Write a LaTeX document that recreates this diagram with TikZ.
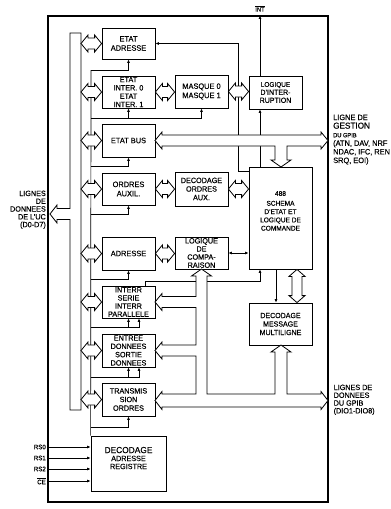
\documentclass[tikz,border=0pt]{standalone}
\usepackage{fontspec}
\setmainfont{Liberation Sans}[FakeStretch=0.95,FakeBold=0.3]
\usetikzlibrary{arrows.meta,calc}
\tikzset{
 box/.style={draw, line width=0.8pt, inner sep=0pt, align=center, font=\fontsize{7.8}{9.2}\selectfont},
 ln/.style={line width=0.7pt},
 arr/.style={line width=0.7pt, -{Latex[length=3.5pt,width=3pt]}},
 dblarr/.style={line width=0.7pt, {Latex[length=3.5pt,width=3pt]}-{Latex[length=3.5pt,width=3pt]}},
 hollow/.style={draw, fill=white, line width=0.8pt, line join=miter},
 lbl/.style={inner sep=0pt, align=left, anchor=north west},
 rs/.style={inner sep=0.5pt, anchor=east, font=\fontsize{6.5}{7}\selectfont},
}
\newcommand\hdbl[2]{%
 \path[hollow] let \p1=(#1), \p2=(#2) in
  (\x1,\y1) -- (\x1+7pt,\y1+8.5pt) -- (\x1+7pt,\y1+5.5pt) -- (\x2-7pt,\y1+5.5pt)
  -- (\x2-7pt,\y1+8.5pt) -- (\x2,\y1) -- (\x2-7pt,\y1-8.5pt) -- (\x2-7pt,\y1-5.5pt)
  -- (\x1+7pt,\y1-5.5pt) -- (\x1+7pt,\y1-8.5pt) -- cycle;}
\newcommand\vdbl[2]{%
 \path[hollow] let \p1=(#1), \p2=(#2) in
  (\x1,\y1) -- (\x1+8pt,\y1-7pt) -- (\x1+5pt,\y1-7pt) -- (\x1+5pt,\y2+7pt)
  -- (\x1+8pt,\y2+7pt) -- (\x1,\y2) -- (\x1-8pt,\y2+7pt) -- (\x1-5pt,\y2+7pt)
  -- (\x1-5pt,\y1-7pt) -- (\x1-8pt,\y1-7pt) -- cycle;}
\begin{document}
\begin{tikzpicture}[x=1pt,y=-1pt]
\useasboundingbox (0,0) rectangle (391,509);
% chip outline
\node[draw, line width=1.1pt, minimum width=280pt, minimum height=486pt, inner sep=0pt] (chip) at (188,259) {};
% left column
\node[box, minimum width=53pt, minimum height=31pt] (ea) at (128.5,43.5) {ETAT\\ADRESSE};
\node[box, minimum width=53pt, minimum height=32pt, font=\fontsize{7.6}{8.3}\selectfont] (ei) at (128.5,92) {ETAT\\INTER. 0\\ETAT\\INTER. 1};
\node[box, minimum width=53pt, minimum height=33pt] (eb) at (128.5,140.5) {ETAT BUS};
\node[box, minimum width=53pt, minimum height=32pt] (oa) at (128.5,189) {ORDRES\\AUXIL.};
\node[box, minimum width=53pt, minimum height=33pt] (ad) at (128.5,253.5) {ADRESSE};
\node[box, minimum width=53pt, minimum height=32pt, font=\fontsize{7.6}{8.1}\selectfont] (isp) at (128.5,302) {INTERR\\SERIE\\INTERR\\PARALLELE};
\node[box, minimum width=53pt, minimum height=33pt, font=\fontsize{7.6}{8.3}\selectfont] (edo) at (128.5,350.5) {ENTREE\\DONNEES\\SORTIE\\DONNEES};
\node[box, minimum width=53pt, minimum height=33pt, font=\fontsize{7.6}{8.6}\selectfont] (tro) at (128.5,399.5) {TRANSMIS\\SION\\ORDRES};
\node[box, minimum width=75pt, minimum height=55pt, font=\fontsize{7.6}{8}\selectfont] (dar) at (128.5,463.5) {{\fontsize{8.8}{8}\selectfont DECODAGE}\\ADRESSE\\REGISTRE\\[3pt]};
% middle column
\node[box, minimum width=53pt, minimum height=33pt] (mq) at (201.5,91.5) {MASQUE 0\\MASQUE 1};
\node[box, minimum width=53pt, minimum height=34pt, font=\fontsize{7.6}{8.6}\selectfont] (do) at (201.5,189) {DECODAGE\\ORDRES\\AUX.};
\node[box, minimum width=53pt, minimum height=32pt, font=\fontsize{7.6}{8.1}\selectfont] (lc) at (201.5,253) {LOGIQUE\\DE\\COMPA-\\RAISON};
% right column
\node[box, minimum width=53pt, minimum height=33pt, font=\fontsize{7.4}{8}\selectfont] (li) at (275.5,92.5) {{\fontsize{6.8}{8}\selectfont LOGIQUE}\\D'INTER-\\RUPTION};
\node[box, minimum width=63pt, minimum height=102pt, font=\fontsize{6.9}{8.3}\selectfont] (s) at (280.5,218) {488\\[1.5pt]SCHEMA\\D'ETAT ET\\LOGIQUE DE\\COMMANDE\\[6pt]};
\node[box, minimum width=63pt, minimum height=42pt, font=\fontsize{7.4}{8.5}\selectfont] (dmm) at (280.5,324) {DECODAGE\\MESSAGE\\MULTILIGNE};
% control lines from register decoder
\coordinate (cb) at (91,70);
\draw[ln] (dar.north west) -- (cb);
\draw[arr] (cb) -| (ea.south);
\draw[arr] (91,118) -| (mq.south);
\draw[arr] (ei.south |- 0,118) -- (ei.south);
\draw[arr] (91,166) -| (eb.south);
\draw[arr] (91,214) -| (oa.south);
\draw[arr] (91,279) -| (ad.south);
\draw[arr] (91,327) -| ([xshift=10.5pt]isp.south);
\draw[arr] (isp.south |- 0,327) -- (isp.south);
\draw[arr] (91,377) -| ([xshift=10.5pt]edo.south);
\draw[arr] (edo.south |- 0,377) -- (edo.south);
\draw[arr] (91,427) -| (tro.south);
% other thin connections
\draw[arr] ([yshift=-5pt]s.north west) -- ++(-10pt,0) |- (ea.east);
\draw[arr] ([xshift=-20.5pt]s.north) -- ([xshift=-20.5pt]s.north |- li.south);
\draw[arr] ([xshift=-15.5pt]li.north) -- ([xshift=-15.5pt]li.north |- chip.north);
\node[inner sep=0pt, font=\fontsize{6}{7}\selectfont] (int) at (260,8.5) {$\overline{\hbox{INT}}$};
\draw[arr] ([xshift=16.5pt]isp.north) |- (260,281) -- ([xshift=-20.5pt]s.south);
\draw[arr] ([xshift=-4.5pt]s.south) -- ([xshift=-4.5pt]dmm.north);
\draw[dblarr] (lc.east) -- (lc.east -| s.west);
% register select inputs
\node[rs] (rs0) at (46.5,447) {RS0};
\node[rs] (rs1) at (46.5,458) {RS1};
\node[rs] (rs2) at (46.5,469) {RS2};
\node[rs] (ce) at (46.5,481) {$\overline{\hbox{CE}}$};
\foreach \r in {rs0,rs1,rs2,ce} \draw[arr] (\r.east -| chip.west) -- (\r.east -| dar.west);
% CPU data bus
\draw[hollow] (70,33) -- (81,33) -- (81,410) -- (70,410) -- (70,219.5) -- (57,219.5) -- (57,223) -- (50,214) -- (57,205) -- (57,208.5) -- (70,208.5) -- cycle;
\coordinate (busR) at (81,0);
\foreach \bx in {ea,ei,eb,oa,ad,isp,edo,tro} {\hdbl{\bx.west -| busR}{\bx.west}}
% internal wide connections
\hdbl{ei.east}{mq.west}
\hdbl{mq.east}{li.west}
\hdbl{oa.east}{do.west}
\hdbl{do.east}{do.east -| s.west}
\hdbl{ad.east}{lc.west}
\vdbl{[xshift=16.5pt]s.south}{[xshift=16.5pt]dmm.north}
% GPIB management bus
\draw[hollow] (155,140.5) -- (162,132) -- (162,135) -- (321,135) -- (321,132) -- (328,140.5) -- (321,149) -- (321,146) -- (287,146) -- (287,160) -- (291,160) -- (281,167) -- (271,160) -- (275,160) -- (275,146) -- (162,146) -- (162,149) -- cycle;
% GPIB data bus
\draw[hollow] (201.5,269) -- (211.5,276) -- (207,276) -- (207,394) -- (275,394) -- (275,352) -- (271,352) -- (281,345) -- (291,352) -- (287,352) -- (287,394) -- (321,394) -- (321,391.5) -- (328,400.5) -- (321,409.5) -- (321,407) -- (162,407) -- (162,409.5) -- (155,400.5) -- (162,391.5) -- (162,394) -- (196,394) -- (196,356) -- (162,356) -- (162,359) -- (155,350.5) -- (162,342) -- (162,345) -- (196,345) -- (196,307.5) -- (162,307.5) -- (162,310.5) -- (155,302) -- (162,293.5) -- (162,296.5) -- (196,296.5) -- (196,276) -- (191.5,276) -- cycle;
% outside labels
\node[inner sep=0pt, align=right, anchor=north east, font=\fontsize{7.6}{7.8}\selectfont] (uc) at (46,190.5) {LIGNES\\DE\\DONNEES\\DE L'UC\\(D0-D7)};
\node[lbl, font=\fontsize{7.8}{8.6}\selectfont] (gest) at (333,114.4) {LIGNE DE\\{\fontsize{8.6}{8.6}\selectfont GESTION}\\{\fontsize{6}{8.6}\selectfont DU GPIB}\\(ATN, DAV, NRF\\NDAC, IFC, REN\\SRQ, EOI)};
\node[lbl, font=\fontsize{7.6}{7.8}\selectfont] (gdat) at (333.5,384.5) {LIGNES DE\\DONNEES\\DU GPIB\\(DIO1-DIO8)};
\end{tikzpicture}
\end{document}
